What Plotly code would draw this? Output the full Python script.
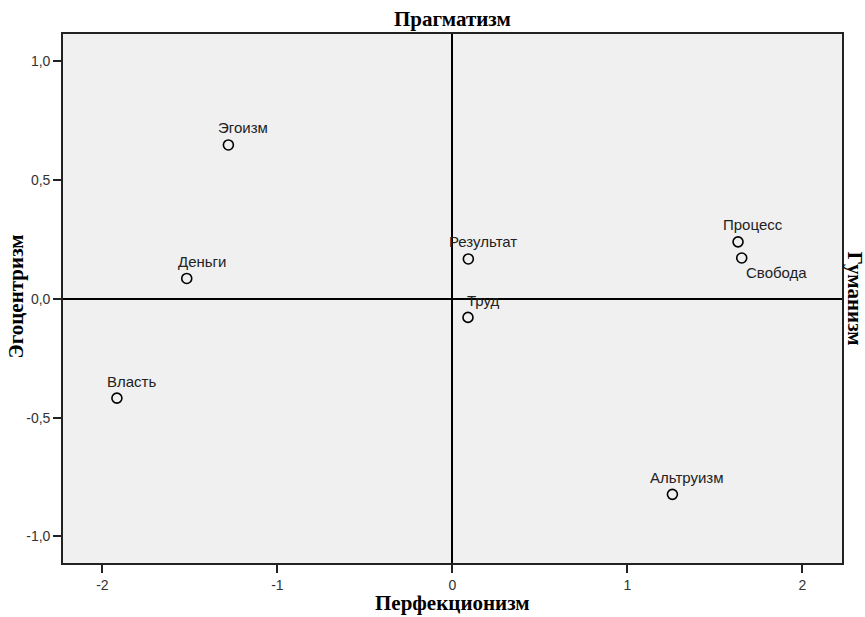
import plotly.graph_objects as go

# Data
names = ["Эгоизм", "Деньги", "Власть", "Результат", "Труд", "Процесс", "Свобода", "Альтруизм"]
x_vals = [-1.28, -1.518, -1.917, 0.091, 0.089, 1.632, 1.653, 1.257]
y_vals = [0.648, 0.086, -0.418, 0.168, -0.078, 0.240, 0.172, -0.823]

x_ticks = [-2, -1, 0, 1, 2]
x_ticktext = ["-2", "-1", "0", "1", "2"]
y_ticks = [1.0, 0.5, 0.0, -0.5, -1.0]
y_ticktext = ["1,0", "0,5", "0,0", "-0,5", "-1,0"]

title_top = "Прагматизм"
title_bottom = "Перфекционизм"
title_left = "Эгоцентризм"
title_right = "Гуманизм"

# label pixel offsets (style)
label_shift = {"Свобода": (35, -14)}
default_shift = (15, 17)

fig = go.Figure()
fig.add_trace(go.Scatter(
    x=x_vals, y=y_vals, mode="markers",
    marker=dict(symbol="circle-open", size=10, color="black", line=dict(width=1.6, color="black")),
    hoverinfo="text", text=names, showlegend=False,
))

label_font = dict(family="Liberation Sans, Arial, sans-serif", size=15, color="#222222")
for n, xv, yv in zip(names, x_vals, y_vals):
    dx, dy = label_shift.get(n, default_shift)
    fig.add_annotation(x=xv, y=yv, xref="x", yref="y", text=n, showarrow=False,
                       xanchor="center", yanchor="middle", xshift=dx, yshift=dy, font=label_font)

title_font = dict(family="Liberation Serif, Times New Roman, serif", size=21, color="black")
fig.add_annotation(xref="paper", yref="paper", x=0.5, y=1, yshift=15.5, text="<b>%s</b>" % title_top,
                   showarrow=False, xanchor="center", yanchor="middle", font=title_font)
fig.add_annotation(xref="paper", yref="paper", x=0.5, y=0, yshift=-40, text="<b>%s</b>" % title_bottom,
                   showarrow=False, xanchor="center", yanchor="middle", font=title_font)
fig.add_annotation(xref="paper", yref="paper", x=0, y=0.5, xshift=-48, yshift=2, text="<b>%s</b>" % title_left,
                   showarrow=False, xanchor="center", yanchor="middle", textangle=-90, font=title_font)
fig.add_annotation(xref="paper", yref="paper", x=1, y=0.5, xshift=13, yshift=0, text="<b>%s</b>" % title_right,
                   showarrow=False, xanchor="center", yanchor="middle", textangle=90, font=title_font)

axis_common = dict(
    showgrid=False, zeroline=True, zerolinecolor="black", zerolinewidth=1.6,
    showline=True, mirror=True, linecolor="#222222", linewidth=1.6,
    ticks="outside", ticklen=8, tickwidth=1.6, tickcolor="#222222",
    tickfont=dict(family="Liberation Sans, Arial, sans-serif", size=14, color="#333333"),
)
fig.update_xaxes(range=[-2.225, 2.226], tickvals=x_ticks, ticktext=x_ticktext, **axis_common)
fig.update_yaxes(range=[-1.112, 1.115], tickvals=y_ticks, ticktext=y_ticktext, **axis_common)

fig.update_layout(
    width=865, height=617,
    margin=dict(l=63, r=23, t=34, b=54),
    plot_bgcolor="#F0F0F0", paper_bgcolor="white",
)
fig.write_html("out.html", config={"displayModeBar": False},
               post_script="document.body.style.margin='0';document.body.style.overflow='hidden';")
